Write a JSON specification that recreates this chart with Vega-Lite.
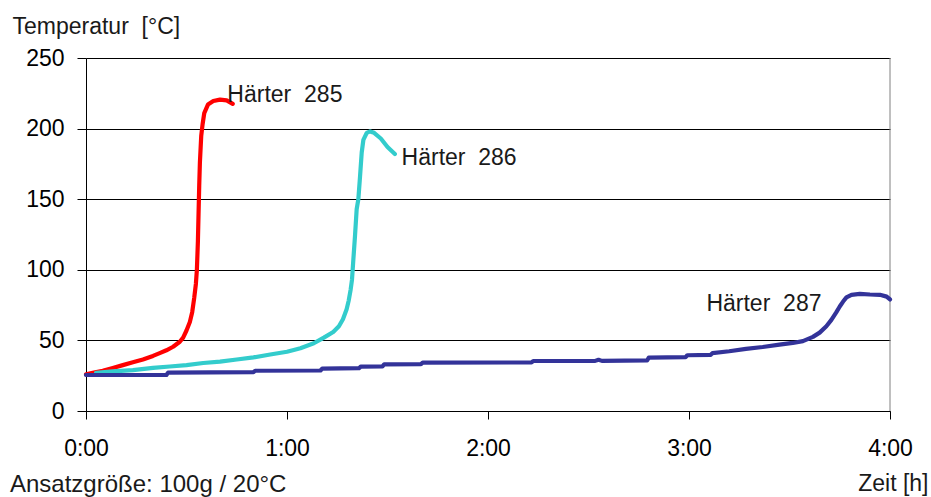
{
  "$schema": "https://vega.github.io/schema/vega-lite/v6.json",
  "width": 804,
  "height": 353,
  "autosize": "none",
  "padding": {"left": 86, "top": 58, "right": 41, "bottom": 86},
  "background": "white",
  "config": {
    "view": {"stroke": null},
    "font": "Liberation Sans",
    "axis": {"labelFont": "Liberation Sans", "titleFont": "Liberation Sans"}
  },
  "title": {
    "text": "Ansatzgröße: 100g / 20°C",
    "orient": "bottom",
    "anchor": "start",
    "frame": "group",
    "font": "Liberation Sans",
    "fontSize": 24,
    "fontWeight": "normal",
    "color": "#1a1a1a",
    "offset": 0,
    "baseline": "alphabetic",
    "dx": -76,
    "dy": -3
  },
  "datasets": {
    "curves": [
      {"series": "285", "t": 0, "T": 26},
      {"series": "285", "t": 2, "T": 27},
      {"series": "285", "t": 5, "T": 28.5},
      {"series": "285", "t": 8, "T": 30.5},
      {"series": "285", "t": 11, "T": 32.5},
      {"series": "285", "t": 14, "T": 34.5},
      {"series": "285", "t": 17, "T": 36.5},
      {"series": "285", "t": 20, "T": 39},
      {"series": "285", "t": 22, "T": 41},
      {"series": "285", "t": 24, "T": 43},
      {"series": "285", "t": 26, "T": 45.5},
      {"series": "285", "t": 28, "T": 49},
      {"series": "285", "t": 29, "T": 52},
      {"series": "285", "t": 30, "T": 57},
      {"series": "285", "t": 31, "T": 63},
      {"series": "285", "t": 31.7, "T": 70},
      {"series": "285", "t": 32.3, "T": 80},
      {"series": "285", "t": 32.8, "T": 90},
      {"series": "285", "t": 33.1, "T": 100},
      {"series": "285", "t": 33.4, "T": 120},
      {"series": "285", "t": 33.6, "T": 140},
      {"series": "285", "t": 33.8, "T": 160},
      {"series": "285", "t": 34, "T": 176},
      {"series": "285", "t": 34.4, "T": 195},
      {"series": "285", "t": 34.8, "T": 203},
      {"series": "285", "t": 35.3, "T": 211},
      {"series": "285", "t": 36.4, "T": 217},
      {"series": "285", "t": 38, "T": 219.5},
      {"series": "285", "t": 40, "T": 220.5},
      {"series": "285", "t": 42, "T": 220},
      {"series": "285", "t": 43.8, "T": 217.5},

      {"series": "286", "t": 3, "T": 27},
      {"series": "286", "t": 8, "T": 28},
      {"series": "286", "t": 14, "T": 29},
      {"series": "286", "t": 20, "T": 30.5},
      {"series": "286", "t": 25, "T": 31.5},
      {"series": "286", "t": 30, "T": 32.5},
      {"series": "286", "t": 35, "T": 34},
      {"series": "286", "t": 40, "T": 35},
      {"series": "286", "t": 45, "T": 36.5},
      {"series": "286", "t": 50, "T": 38},
      {"series": "286", "t": 55, "T": 40},
      {"series": "286", "t": 60, "T": 42},
      {"series": "286", "t": 64, "T": 44.5},
      {"series": "286", "t": 68, "T": 48},
      {"series": "286", "t": 71, "T": 52},
      {"series": "286", "t": 73.8, "T": 56},
      {"series": "286", "t": 75.5, "T": 60},
      {"series": "286", "t": 76.7, "T": 65},
      {"series": "286", "t": 77.8, "T": 72},
      {"series": "286", "t": 78.4, "T": 78},
      {"series": "286", "t": 79, "T": 86},
      {"series": "286", "t": 79.4, "T": 93},
      {"series": "286", "t": 79.8, "T": 107},
      {"series": "286", "t": 80.3, "T": 124},
      {"series": "286", "t": 80.8, "T": 143},
      {"series": "286", "t": 81.3, "T": 150},
      {"series": "286", "t": 81.8, "T": 166},
      {"series": "286", "t": 82.3, "T": 183},
      {"series": "286", "t": 82.8, "T": 192},
      {"series": "286", "t": 83.8, "T": 197},
      {"series": "286", "t": 84.8, "T": 198},
      {"series": "286", "t": 86, "T": 197},
      {"series": "286", "t": 88, "T": 193},
      {"series": "286", "t": 90, "T": 187},
      {"series": "286", "t": 92.2, "T": 182},

      {"series": "287", "t": 0, "T": 25.5},
      {"series": "287", "t": 24, "T": 25.5},
      {"series": "287", "t": 24.5, "T": 27.2},
      {"series": "287", "t": 50, "T": 27.5},
      {"series": "287", "t": 50.5, "T": 28.5},
      {"series": "287", "t": 70, "T": 28.7},
      {"series": "287", "t": 70.5, "T": 30},
      {"series": "287", "t": 81.5, "T": 30.3},
      {"series": "287", "t": 82, "T": 31.4},
      {"series": "287", "t": 88.5, "T": 31.6},
      {"series": "287", "t": 89, "T": 33},
      {"series": "287", "t": 100, "T": 33.2},
      {"series": "287", "t": 100.5, "T": 34.2},
      {"series": "287", "t": 133, "T": 34.4},
      {"series": "287", "t": 133.5, "T": 35.4},
      {"series": "287", "t": 152, "T": 35.5},
      {"series": "287", "t": 153, "T": 36.3},
      {"series": "287", "t": 154, "T": 35.5},
      {"series": "287", "t": 167.5, "T": 35.8},
      {"series": "287", "t": 168, "T": 37.8},
      {"series": "287", "t": 179, "T": 38.2},
      {"series": "287", "t": 179.5, "T": 39.5},
      {"series": "287", "t": 186.5, "T": 39.8},
      {"series": "287", "t": 187, "T": 41},
      {"series": "287", "t": 192, "T": 42.3},
      {"series": "287", "t": 197, "T": 44},
      {"series": "287", "t": 202, "T": 45.3},
      {"series": "287", "t": 207, "T": 47},
      {"series": "287", "t": 211, "T": 48.2},
      {"series": "287", "t": 214, "T": 49.5},
      {"series": "287", "t": 217, "T": 52.5},
      {"series": "287", "t": 219, "T": 55.5},
      {"series": "287", "t": 221, "T": 60},
      {"series": "287", "t": 222.5, "T": 64.5},
      {"series": "287", "t": 224, "T": 70},
      {"series": "287", "t": 225, "T": 74},
      {"series": "287", "t": 226, "T": 77.5},
      {"series": "287", "t": 227, "T": 80.5},
      {"series": "287", "t": 228.5, "T": 82.3},
      {"series": "287", "t": 231, "T": 83},
      {"series": "287", "t": 234, "T": 82.5},
      {"series": "287", "t": 237, "T": 82.3},
      {"series": "287", "t": 239, "T": 81},
      {"series": "287", "t": 240, "T": 79}
    ],
    "labels": [
      {"name": "Härter\u00a0 285", "t": 42.2, "T": 219},
      {"name": "Härter\u00a0 286", "t": 94.2, "T": 174.2},
      {"name": "Härter\u00a0 287", "t": 185.2, "T": 71}
    ],
    "border": [{"t": 240}]
  },
  "layer": [
    {
      "data": {"name": "border"},
      "mark": {"type": "rule", "color": "#808080", "strokeWidth": 1},
      "encoding": {
        "x": {"field": "t", "type": "quantitative", "scale": {"domain": [0, 240], "nice": false}}
      }
    },
    {
      "data": {"name": "curves"},
      "mark": {"type": "line", "strokeWidth": 4.2, "strokeJoin": "round", "strokeCap": "round"},
      "encoding": {
        "x": {
          "field": "t",
          "type": "quantitative",
          "scale": {"domain": [0, 240], "nice": false},
          "axis": {
            "values": [0, 60, 120, 180, 240],
            "labelExpr": "floor(datum.value / 60) + ':00'",
            "grid": false,
            "domainColor": "#000",
            "domainWidth": 1,
            "tickColor": "#000",
            "tickSize": 8,
            "labelFontSize": 23,
            "labelColor": "#000",
            "labelPadding": 18,
            "labelFlush": false,
            "labelOverlap": false,
            "title": "Zeit [h]",
            "titleFontSize": 23,
            "titleFontWeight": "normal",
            "titleColor": "#1a1a1a",
            "titleAlign": "right",
            "titleBaseline": "alphabetic",
            "titleX": 842,
            "titleY": 79
          }
        },
        "y": {
          "field": "T",
          "type": "quantitative",
          "scale": {"domain": [0, 250], "nice": false},
          "axis": {
            "values": [0, 50, 100, 150, 200, 250],
            "grid": true,
            "gridColor": "#000",
            "gridWidth": 1,
            "domainColor": "#000",
            "domainWidth": 1,
            "tickColor": "#000",
            "tickSize": 9,
            "labelFontSize": 23,
            "labelColor": "#000",
            "labelPadding": 13,
            "labelFlush": false,
            "labelOverlap": false,
            "title": "Temperatur\u00a0 [°C]",
            "titleAngle": 0,
            "titleFontSize": 23,
            "titleFontWeight": "normal",
            "titleColor": "#1a1a1a",
            "titleAlign": "left",
            "titleBaseline": "alphabetic",
            "titleX": -74,
            "titleY": -25
          }
        },
        "color": {
          "field": "series",
          "type": "nominal",
          "scale": {"domain": ["285", "286", "287"], "range": ["#ff0000", "#33cccc", "#333399"]},
          "legend": null
        }
      }
    },
    {
      "data": {"name": "labels"},
      "mark": {"type": "text", "align": "left", "baseline": "alphabetic", "fontSize": 23, "font": "Liberation Sans", "color": "#1a1a1a"},
      "encoding": {
        "x": {"field": "t", "type": "quantitative"},
        "y": {"field": "T", "type": "quantitative"},
        "text": {"field": "name"}
      }
    }
  ]
}
